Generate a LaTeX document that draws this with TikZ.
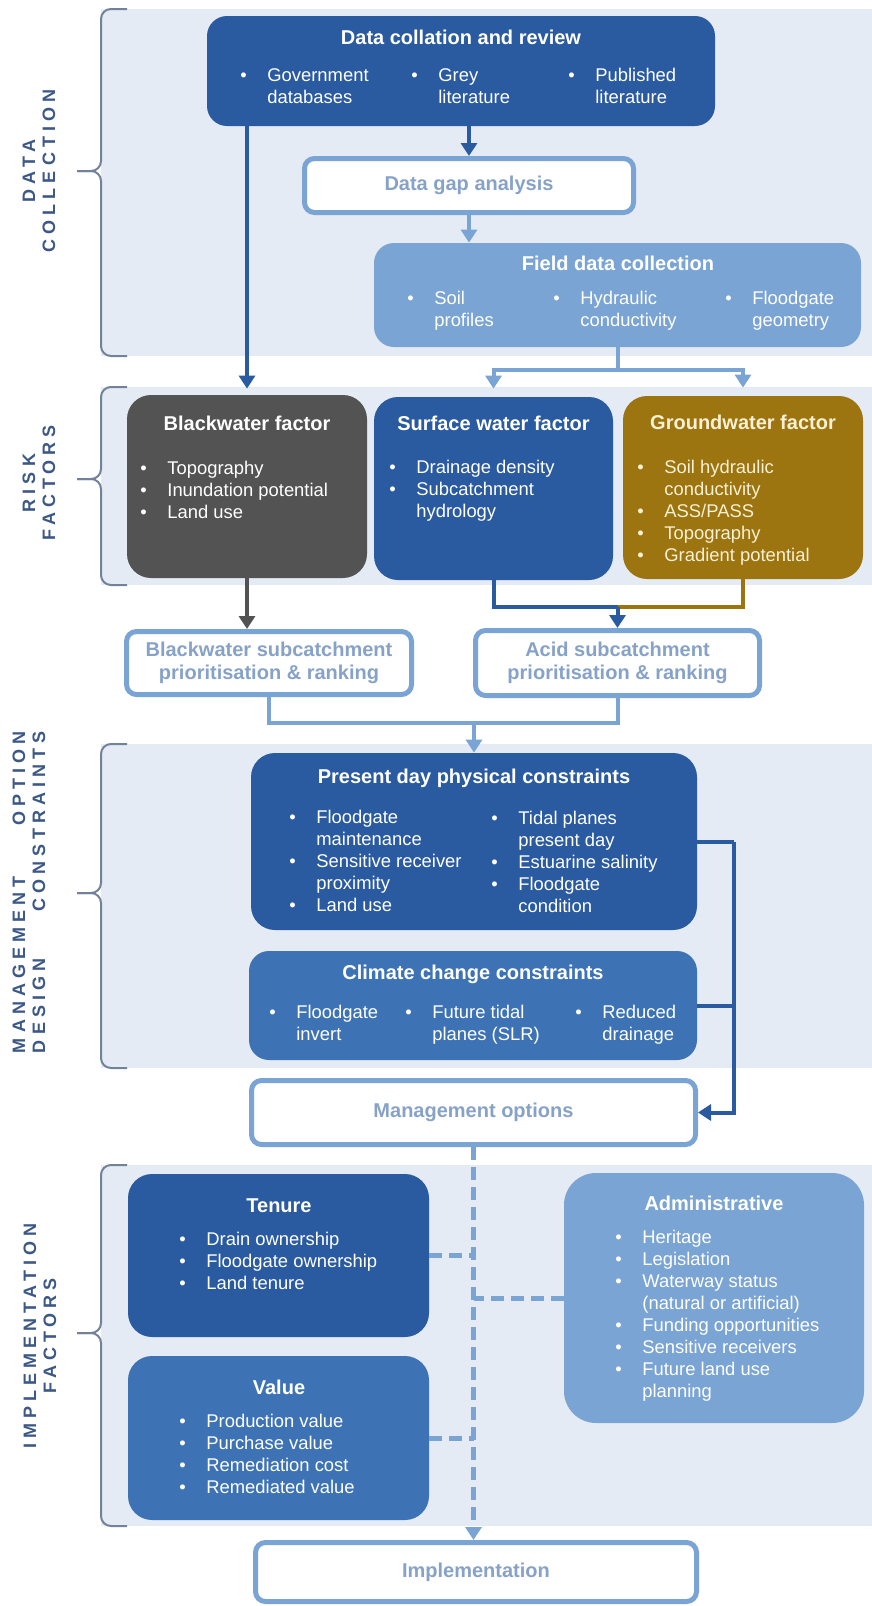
\documentclass[tikz,border=0pt]{standalone}
\usepackage{fontspec}
\setmainfont{Liberation Sans}
\newfontfamily\seclblfont[LetterSpace=28]{Liberation Sans}
\usepackage{tikz}
\usetikzlibrary{arrows.meta,calc}

\definecolor{cdark}{RGB}{42,90,160}
\definecolor{cmid}{RGB}{61,115,181}
\definecolor{clight}{RGB}{122,164,211}
\definecolor{cgrey}{RGB}{83,83,83}
\definecolor{cbrown}{RGB}{156,116,16}
\definecolor{cband}{RGB}{228,235,245}
\definecolor{cwtxt}{RGB}{135,162,200}
\definecolor{clbl}{RGB}{60,88,135}
\definecolor{cbrk}{RGB}{115,130,155}
\definecolor{ccream}{RGB}{250,240,212}

\newcommand\ttlfont{\fontsize{10pt}{11.5pt}\selectfont\bfseries}
\newcommand\txtfont{\fontsize{9.2pt}{11pt}\selectfont}
\newcommand\bi[1]{\makebox[13.5pt][l]{\textbullet}#1}
\newcommand\ci[1]{\hspace*{13.5pt}#1}
\newcommand\blist[1]{\begin{tabular}[t]{@{}l@{}}#1\end{tabular}}

\begin{document}
\begin{tikzpicture}[x=0.5pt,y=-0.5pt,
  fbox/.style={rounded corners=10pt,inner sep=0pt},
  wbox/.style={draw=clight,line width=2.5pt,fill=white,rounded corners=5pt,
    inner sep=0pt,align=center,text=cwtxt,font=\ttlfont},
  ttl/.style={anchor=base,inner sep=0pt,font=\ttlfont,text=white},
  lst/.style={anchor=base west,inner sep=0pt,font=\txtfont,text=white},
  sec/.style={rotate=90,align=center,inner sep=0pt,text=clbl,
    font=\seclblfont\fontsize{9pt}{10pt}\selectfont\bfseries},
  ln/.style={line width=2pt},
  arr/.style={ln,-{Triangle[width=8pt,length=6.5pt]}},
  dsh/.style={line width=2.5pt,clight,dash pattern=on 6.5pt off 3.5pt},
  brk/.style={cbrk,line width=1pt,rounded corners=5pt}]
 \fill[white] (0,0) rectangle (872,1606);
 \useasboundingbox (0,0) rectangle (872,1606);

 % section bands and braces
 \foreach \t/\b in {9/356,387/585,744/1068,1165/1526}
   \fill[cband] (101,\t) rectangle (872,\b);
 \foreach \t/\m/\b in {9/171/356,387/479/585,744/893/1068,1165/1333/1526}{
   \draw[brk] (127,\t) -- (101,\t) -- (101,\m) -- (77,\m);
   \draw[brk] (127,\b) -- (101,\b) -- (101,\m) -- (77,\m);
 }
 \node[sec] (dcL) at (39,171) {DATA\\COLLECTION};
 \node[sec] (rfL) at (39,483) {RISK\\FACTORS};
 \node[sec] (mdL) at (29,892) {\makebox[161pt]{MANAGEMENT\hfill OPTION}\\
   \makebox[161pt]{DESIGN\hfill CONSTRAINTS}};
 \node[sec] (ifL) at (40,1336) {IMPLEMENTATION\\FACTORS};

 % data collection
 \node[fbox,fill=cdark,minimum width=254pt,minimum height=55pt] (collate) at (461,71) {};
 \node[ttl] (collateT) at (461,44) {Data collation and review};
 \node[lst] (collateA) at (240,81) {\blist{\bi{Government}\\\ci{databases}}};
 \node[lst] (collateB) at (411,81) {\blist{\bi{Grey}\\\ci{literature}}};
 \node[lst] (collateC) at (568,81) {\blist{\bi{Published}\\\ci{literature}}};
 \node[wbox,minimum width=164.5pt,minimum height=27pt] (gap) at (469,185.5) {Data gap analysis};
 \node[fbox,fill=clight,minimum width=243.5pt,minimum height=52pt] (field) at (617.5,295) {};
 \node[ttl] (fieldT) at (618,270) {Field data collection};
 \node[lst] (fieldA) at (407,304) {\blist{\bi{Soil}\\\ci{profiles}}};
 \node[lst] (fieldB) at (553,304) {\blist{\bi{Hydraulic}\\\ci{conductivity}}};
 \node[lst] (fieldC) at (725,304) {\blist{\bi{Floodgate}\\\ci{geometry}}};

 % risk factors
 \node[fbox,fill=cgrey,minimum width=120pt,minimum height=91.5pt,rounded corners=12pt] (black) at (247,486.5) {};
 \node[ttl] (blackT) at (247,430) {Blackwater factor};
 \node[lst] (blackL) at (140,474) {\blist{\bi{Topography}\\\bi{Inundation potential}\\\bi{Land use}}};
 \node[fbox,fill=cdark,minimum width=119.5pt,minimum height=91.5pt,rounded corners=12pt] (surf) at (493.5,488.5) {};
 \node[ttl] (surfT) at (493.5,430) {Surface water factor};
 \node[lst] (surfL) at (389,473) {\blist{\bi{Drainage density}\\\bi{Subcatchment}\\\ci{hydrology}}};
 \node[fbox,fill=cbrown,minimum width=120pt,minimum height=91.5pt,rounded corners=12pt] (ground) at (743,487.5) {};
 \node[ttl,text=ccream] (groundT) at (743,429) {Groundwater factor};
 \node[lst,text=ccream] (groundL) at (637,473) {\blist{\bi{Soil hydraulic}\\\ci{conductivity}\\\bi{ASS/PASS}\\\bi{Topography}\\\bi{Gradient potential}}};
 \node[wbox,minimum width=142.5pt,minimum height=31.5pt] (blacksub) at (269,663) {Blackwater subcatchment\\prioritisation \& ranking};
 \node[wbox,minimum width=142pt,minimum height=32.5pt] (acid) at (617.5,663) {Acid subcatchment\\prioritisation \& ranking};

 % management option design constraints
 \node[fbox,fill=cdark,minimum width=223pt,minimum height=88.5pt,rounded corners=12pt] (present) at (474,841.5) {};
 \node[ttl] (presentT) at (474,783) {Present day physical constraints};
 \node[lst] (presentA) at (289,823) {\blist{\bi{Floodgate}\\\ci{maintenance}\\\bi{Sensitive receiver}\\\ci{proximity}\\\bi{Land use}}};
 \node[lst] (presentB) at (491,824) {\blist{\bi{Tidal planes}\\\ci{present day}\\\bi{Estuarine salinity}\\\bi{Floodgate}\\\ci{condition}}};
 \node[fbox,fill=cmid,minimum width=224pt,minimum height=54.5pt] (climate) at (473,1005.5) {};
 \node[ttl] (climateT) at (473,979) {Climate change constraints};
 \node[lst] (climateA) at (269,1018) {\blist{\bi{Floodgate}\\\ci{invert}}};
 \node[lst] (climateB) at (405,1018) {\blist{\bi{Future tidal}\\\ci{planes (SLR)}}};
 \node[lst] (climateC) at (575,1018) {\blist{\bi{Reduced}\\\ci{drainage}}};
 \node[wbox,minimum width=222pt,minimum height=32pt] (mgmt) at (473.5,1112.5) {Management options};

 % implementation factors
 \node[fbox,fill=cdark,minimum width=150.5pt,minimum height=81.5pt,rounded corners=12pt] (tenure) at (278.5,1255.5) {};
 \node[ttl] (tenureT) at (279,1212) {Tenure};
 \node[lst] (tenureL) at (179,1245) {\blist{\bi{Drain ownership}\\\bi{Floodgate ownership}\\\bi{Land tenure}}};
 \node[fbox,fill=cmid,minimum width=150.5pt,minimum height=82pt,rounded corners=12pt] (value) at (278.5,1438) {};
 \node[ttl] (valueT) at (279,1394) {Value};
 \node[lst] (valueL) at (179,1427) {\blist{\bi{Production value}\\\bi{Purchase value}\\\bi{Remediation cost}\\\bi{Remediated value}}};
 \node[fbox,fill=clight,minimum width=150pt,minimum height=125pt,rounded corners=16pt] (admin) at (714,1298) {};
 \node[ttl] (adminT) at (714,1210) {Administrative};
 \node[lst] (adminL) at (615,1243) {\blist{\bi{Heritage}\\\bi{Legislation}\\\bi{Waterway status}\\\ci{(natural or artificial)}\\\bi{Funding opportunities}\\\bi{Sensitive receivers}\\\bi{Future land use}\\\ci{planning}}};
 \node[wbox,minimum width=220.5pt,minimum height=29.5pt] (impl) at (476,1572) {Implementation};

 % connectors
 \draw[arr,cdark,shorten >=3pt] (collate.south -| black.north) -- (black.north);
 \draw[arr,cdark] (collate.south -| gap.north) -- (gap.north);
 \draw[arr,clight] (gap.south) -- (gap.south |- field.north);
 \draw[ln,clight] (field.south) -- ++(0,23) coordinate (fj);
 \draw[arr,clight,shorten >=4pt] (fj) -| (surf.north);
 \draw[arr,clight,shorten >=4pt] (fj) -| (ground.north);
 \draw[arr,cgrey] (black.south) -- (black.south |- blacksub.north);
 \path (surf.south) ++(0,27) coordinate (sj);
 \coordinate (aj) at (sj -| acid.north);
 \draw[ln,cbrown] (ground.south) |- (aj);
 \draw[ln,cdark] (surf.south) |- (aj);
 \draw[arr,cdark] (aj) -- (acid.north);
 \path (blacksub.south) ++(0,26) coordinate (bj);
 \draw[ln,clight] (blacksub.south) -- (bj) -| (acid.south);
 \draw[arr,clight] (bj -| present.north) -- (present.north);
 \coordinate (pj) at ([xshift=18.5pt]present.east);
 \draw[ln,cdark] (present.east) -- (pj);
 \draw[ln,cdark] (climate.east) -- (climate.east -| pj);
 \draw[arr,cdark] (pj) |- (mgmt.east);
 \draw[dsh,-{Triangle[width=8pt,length=6.5pt]}] (mgmt.south) -- (mgmt.south |- impl.north);
 \draw[dsh] (tenure.east) -- (tenure.east -| mgmt.south);
 \draw[dsh] (admin.west) -- (admin.west -| mgmt.south);
 \draw[dsh] (value.east) -- (value.east -| mgmt.south);
\end{tikzpicture}
\end{document}
